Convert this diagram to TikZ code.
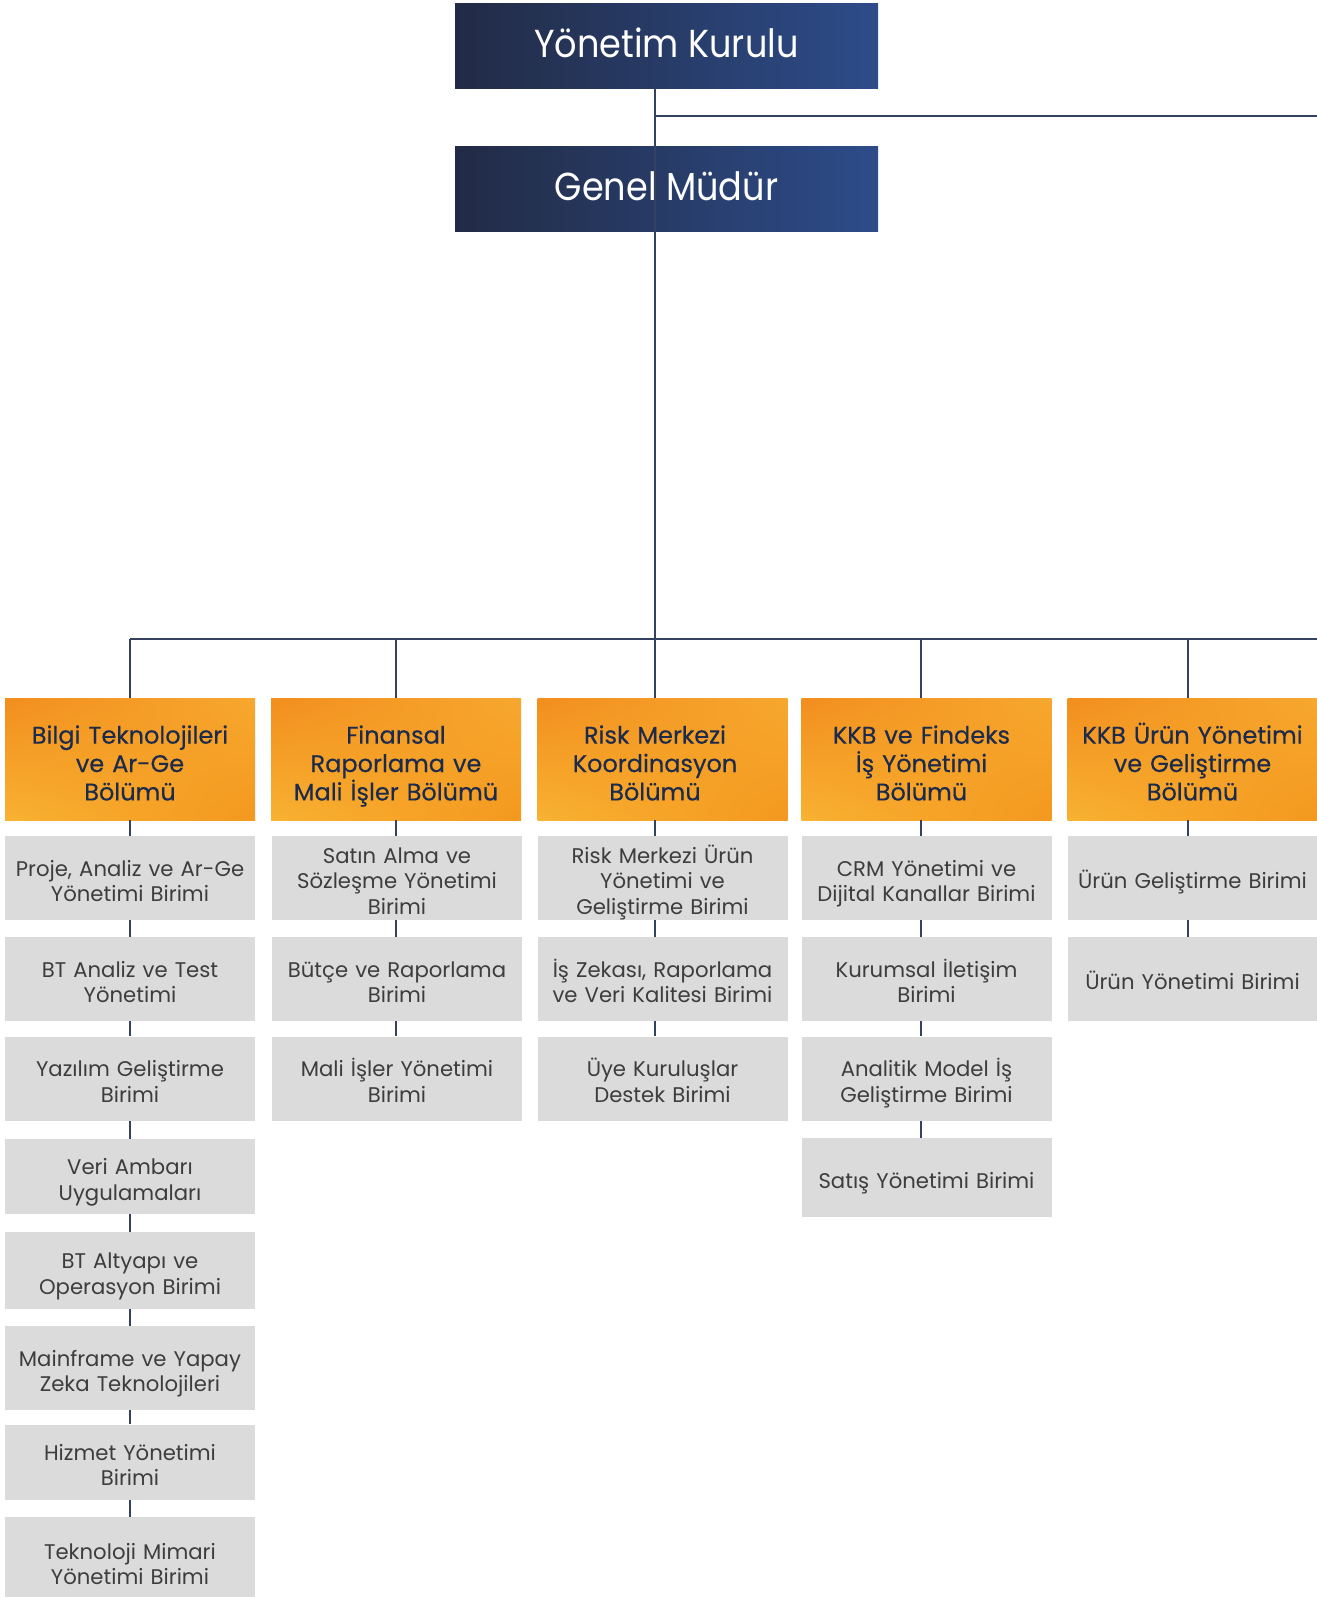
\documentclass[tikz,border=0pt]{standalone}
\usepackage{fontspec}
\setmainfont{Poppins}
\newfontfamily\popmed{Poppins}[FakeBold=0.35]
\newfontfamily\popnarrow{Poppins}[FakeStretch=0.9]
\usepackage{tikz}
\usetikzlibrary{positioning,shadings}

\definecolor{navydark}{HTML}{222B45}
\definecolor{navymid}{HTML}{26385C}
\definecolor{navylight}{HTML}{2D4C8A}
\definecolor{linecol}{HTML}{34425F}
\definecolor{deptext}{HTML}{1C2B4B}
\definecolor{orangeLL}{HTML}{F8B232}
\definecolor{orangeUL}{HTML}{F28E1E}
\definecolor{orangeUR}{HTML}{F7A82E}
\definecolor{orangeLR}{HTML}{F4981F}
\definecolor{unitfill}{HTML}{DBDBDB}
\definecolor{unittext}{HTML}{3D3D3D}

\tikzset{
  board/.style={inner sep=0pt, minimum width=211.5pt, minimum height=42.5pt,
    left color=navydark, middle color=navymid, right color=navylight,
    text height=11.6pt, text depth=0pt,
    text=white, font=\popnarrow\fontsize{19.5}{22}\selectfont},
  dept/.style={inner sep=0pt, minimum width=125pt, minimum height=61pt,
    text width=125pt, align=center,
    execute at begin node={\rule{0pt}{16.6pt}},
    execute at end node={\rule[-3.6pt]{0pt}{0pt}},
    lower left=orangeLL, upper left=orangeUL,
    upper right=orangeUR, lower right=orangeLR,
    text=deptext, font=\popmed\fontsize{12}{14.2}\selectfont},
  lefttext/.style={execute at begin node={\leftskip=0pt plus 1fil\rightskip=#1 plus 1fil}},
  unit/.style={inner sep=0pt, minimum width=125pt, minimum height=42pt,
    text width=125pt, align=center,
    execute at begin node={\rule{0pt}{13.8pt}},
    execute at end node={\rule[-2.9pt]{0pt}{0pt}},
    fill=unitfill, text=unittext, font=\fontsize{10.6}{12.6}\selectfont},
  link/.style={draw=linecol, line width=0.7pt}
}

\begin{document}
\begin{tikzpicture}[x=0.5pt, y=-0.5pt]
\useasboundingbox (0,0) rectangle (1317,1597);

% top of the chart
\node[board] (yk) at (666.5,45.5) {Yönetim Kurulu};
\node[board] (gm) at (666.5,188.5) {Genel Müdür};

% column axes on the bus
\coordinate (ax1) at (130,639);
\coordinate (ax2) at (396,639);
\coordinate (ax3) at (655,639);
\coordinate (ax4) at (921,639);
\coordinate (ax5) at (1188,639);
\coordinate (busend) at (1317,639);
\coordinate (ykjoin) at (655,116);
\coordinate (ykend) at (1317,116);

% departments
\node[dept] (d1) at (130,759) {Bilgi Teknolojileri\\ve Ar-Ge\\Bölümü};
\node[dept] (d2) at (396,759) {Finansal\\Raporlama ve\\Mali İşler Bölümü};
\node[dept, lefttext=7.5pt] (d3) at (662.5,759) {Risk Merkezi\\Koordinasyon\\Bölümü};
\node[dept, lefttext=5pt] (d4) at (926.5,759) {KKB ve Findeks\\İş Yönetimi\\Bölümü};
\node[dept] (d5) at (1192.5,759) {KKB Ürün Yönetimi\\ve Geliştirme\\Bölümü};

% units
\node[unit] (u11) at (130,878) {Proje, Analiz ve Ar-Ge\\Yönetimi Birimi};
\node[unit] (u12) at (130,979) {BT Analiz ve Test\\Yönetimi};
\node[unit] (u13) at (130,1078.5) {Yazılım Geliştirme\\Birimi};
\node[unit, minimum height=37.5pt] (u14) at (130,1176.5) {Veri Ambarı\\Uygulamaları};
\node[unit, minimum height=38.5pt] (u15) at (130,1270.5) {BT Altyapı ve\\Operasyon Birimi};
\node[unit] (u16) at (130,1368) {Mainframe ve Yapay\\Zeka Teknolojileri};
\node[unit, minimum height=37.5pt] (u17) at (130,1462) {Hizmet Yönetimi\\Birimi};
\node[unit, minimum height=44pt] (u18) at (130,1561) {Teknoloji Mimari\\Yönetimi Birimi};

\node[unit] (u21) at (397,878) {Satın Alma ve\\Sözleşme Yönetimi\\Birimi};
\node[unit] (u22) at (397,979) {Bütçe ve Raporlama\\Birimi};
\node[unit] (u23) at (397,1078.5) {Mali İşler Yönetimi\\Birimi};

\node[unit] (u31) at (662.5,878) {Risk Merkezi Ürün\\Yönetimi ve\\Geliştirme Birimi};
\node[unit] (u32) at (662.5,979) {İş Zekası, Raporlama\\ve Veri Kalitesi Birimi};
\node[unit] (u33) at (662.5,1078.5) {Üye Kuruluşlar\\Destek Birimi};

\node[unit] (u41) at (926.5,878) {CRM Yönetimi ve\\Dijital Kanallar Birimi};
\node[unit] (u42) at (926.5,979) {Kurumsal İletişim\\Birimi};
\node[unit] (u43) at (926.5,1078.5) {Analitik Model İş\\Geliştirme Birimi};
\node[unit, minimum height=39.5pt] (u44) at (926.5,1177.5) {Satış Yönetimi Birimi};

\node[unit] (u51) at (1192.5,878) {Ürün Geliştirme Birimi};
\node[unit] (u52) at (1192.5,979) {Ürün Yönetimi Birimi};

% connectors
\draw[link] (yk.south -| ax3) -- (ax3);
\draw[link] (ykjoin) -- (ykend);
\draw[link] (ax1) -- (busend);
\foreach \c in {1,...,5}
  \draw[link] (ax\c) -- (ax\c |- d\c.north);
\foreach \c/\a/\b in {1/d1/u11, 1/u11/u12, 1/u12/u13, 1/u13/u14, 1/u14/u15,
    1/u15/u16, 1/u16/u17, 1/u17/u18,
    2/d2/u21, 2/u21/u22, 2/u22/u23,
    3/d3/u31, 3/u31/u32, 3/u32/u33,
    4/d4/u41, 4/u41/u42, 4/u42/u43, 4/u43/u44,
    5/d5/u51, 5/u51/u52}
  \draw[link] (ax\c |- \a.south) -- (ax\c |- \b.north);
\end{tikzpicture}
\end{document}
